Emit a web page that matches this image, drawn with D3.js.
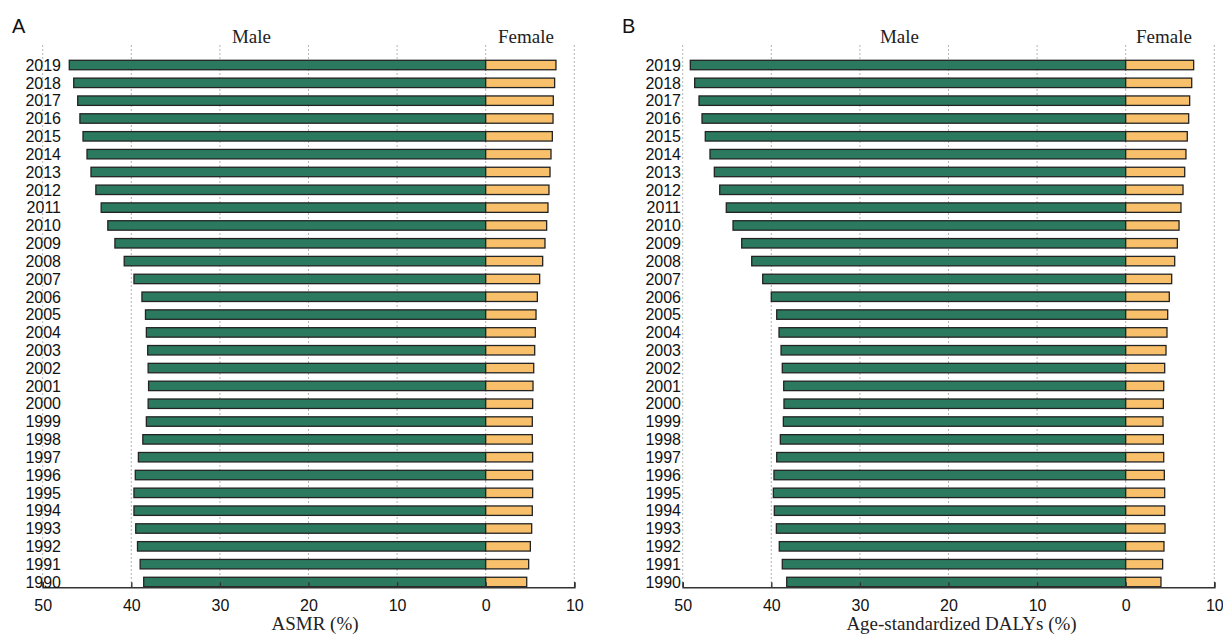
<!DOCTYPE html>
<html>
<head>
<meta charset="utf-8">
<script src="https://cdn.jsdelivr.net/npm/d3@7"></script>
<style>
  html, body { margin: 0; padding: 0; background: #fff; }
  svg { display: block; }
</style>
</head>
<body>
<svg id="chart" width="1223" height="634"></svg>
<script>
// ---- Data ----
const years = [1990, 1991, 1992, 1993, 1994, 1995, 1996, 1997, 1998, 1999,
               2000, 2001, 2002, 2003, 2004, 2005, 2006, 2007, 2008, 2009,
               2010, 2011, 2012, 2013, 2014, 2015, 2016, 2017, 2018, 2019];

const asmrMale = [38.6, 39.0, 39.3, 39.5, 39.7, 39.7, 39.55, 39.2, 38.7, 38.3,
                  38.1, 38.05, 38.1, 38.15, 38.3, 38.4, 38.8, 39.7, 40.8, 41.85,
                  42.65, 43.4, 44.0, 44.55, 45.0, 45.45, 45.8, 46.05, 46.5, 47.0];
const asmrFemale = [4.63, 4.85, 5.04, 5.19, 5.26, 5.3, 5.3, 5.3, 5.26, 5.26,
                    5.3, 5.34, 5.42, 5.53, 5.6, 5.68, 5.83, 6.09, 6.43, 6.69,
                    6.88, 7.03, 7.14, 7.26, 7.37, 7.52, 7.6, 7.63, 7.78, 7.93];

const dalyMale = [38.26, 38.76, 39.1, 39.43, 39.66, 39.77, 39.7, 39.39, 38.98, 38.64,
                  38.57, 38.6, 38.76, 38.9, 39.13, 39.39, 40.0, 40.97, 42.21, 43.34,
                  44.32, 45.08, 45.82, 46.43, 46.92, 47.45, 47.82, 48.16, 48.65, 49.14];
const dalyFemale = [3.98, 4.17, 4.32, 4.44, 4.4, 4.4, 4.36, 4.29, 4.25, 4.21,
                    4.25, 4.29, 4.4, 4.55, 4.66, 4.74, 4.92, 5.19, 5.53, 5.83,
                    6.02, 6.24, 6.47, 6.66, 6.8, 6.95, 7.11, 7.22, 7.45, 7.67];

const xTicks = [-50, -40, -30, -20, -10, 0, 10];
const xDomain = [-50, 10];

const panels = [
  { label: "A", title: "ASMR (%)", male: asmrMale, female: asmrFemale, offset: 0,
    titleX: 315, maleX: 251.5, femaleX: 526, yearX: 61, labelX: 12 },
  { label: "B", title: "Age-standardized DALYs (%)", male: dalyMale, female: dalyFemale, offset: 640,
    titleX: 321.5, maleX: 259.5, femaleX: 524, yearX: 41, labelX: -18 }
];

// ---- Styles ----
const maleColor = "#2b7a5f";
const femaleColor = "#f8c06a";
const strokeColor = "#232323";
const sans = "'Liberation Sans', Arial, sans-serif";
const serif = "'Liberation Serif', 'Times New Roman', serif";

const svg = d3.select("#chart");

const plotTop = 45, axisY = 587.3;

panels.forEach(p => {
  const g = svg.append("g").attr("transform", `translate(${p.offset},0)`);

  const x = d3.scaleLinear().domain(xDomain).range([42.7, 574.3]);
  const y = d3.scaleBand().domain(years).range([590.9, 56.1]).paddingInner(0.47).paddingOuter(0.235);

  // gridlines
  g.append("g").selectAll("line").data(xTicks).join("line")
    .attr("x1", d => x(d)).attr("x2", d => x(d))
    .attr("y1", plotTop).attr("y2", axisY)
    .attr("stroke", "#b5b5b5").attr("stroke-width", 1)
    .attr("stroke-dasharray", "2,2");

  const rows = years.map((yr, i) => ({ yr, m: p.male[i], f: p.female[i] }));

  // male bars
  g.append("g").selectAll("rect").data(rows).join("rect")
    .attr("x", d => x(-d.m)).attr("width", d => x(0) - x(-d.m))
    .attr("y", d => y(d.yr)).attr("height", y.bandwidth())
    .attr("fill", maleColor).attr("stroke", strokeColor).attr("stroke-width", 1.3);

  // female bars
  g.append("g").selectAll("rect").data(rows).join("rect")
    .attr("x", x(0)).attr("width", d => x(d.f) - x(0))
    .attr("y", d => y(d.yr)).attr("height", y.bandwidth())
    .attr("fill", femaleColor).attr("stroke", strokeColor).attr("stroke-width", 1.3);

  // x axis
  const ax = g.append("g").attr("transform", `translate(0,${axisY})`)
    .call(d3.axisBottom(x).tickValues(xTicks).tickFormat(d => Math.abs(d))
      .tickSizeInner(-5).tickSizeOuter(-5).tickPadding(12));
  ax.select(".domain").attr("stroke", "#333").attr("stroke-width", 1.6);
  ax.selectAll(".tick line").attr("stroke", "#333").attr("stroke-width", 1.4);
  ax.selectAll(".tick text").attr("font-family", sans).attr("font-size", 16).attr("fill", "#111");

  // year labels
  g.append("g").selectAll("text").data(years).join("text")
    .attr("x", p.yearX).attr("y", d => y(d) + y.bandwidth() / 2).attr("dy", "0.36em")
    .attr("text-anchor", "end")
    .attr("font-family", sans).attr("font-size", 16).attr("fill", "#111")
    .text(d => d);

  // titles
  g.append("text").attr("x", p.maleX).attr("y", 42.5).attr("text-anchor", "middle")
    .attr("font-family", serif).attr("font-size", 19).attr("fill", "#222").text("Male");
  g.append("text").attr("x", p.femaleX).attr("y", 42.5).attr("text-anchor", "middle")
    .attr("font-family", serif).attr("font-size", 19).attr("fill", "#222").text("Female");
  g.append("text").attr("x", p.titleX).attr("y", 630).attr("text-anchor", "middle")
    .attr("font-family", serif).attr("font-size", 19).attr("fill", "#222").text(p.title);

  // panel label
  g.append("text").attr("x", p.labelX).attr("y", 33)
    .attr("font-family", sans).attr("font-size", 20).attr("fill", "#111").text(p.label);
});
</script>
</body>
</html>
